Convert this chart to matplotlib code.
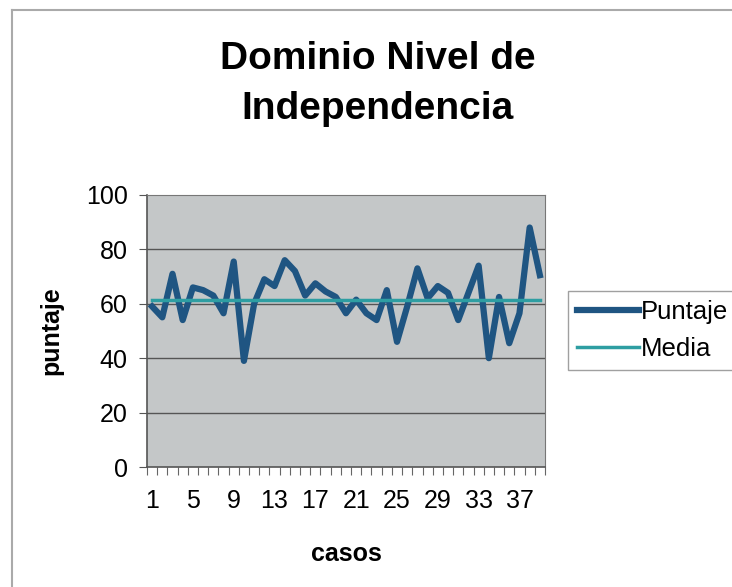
import matplotlib.pyplot as plt
import numpy as np
from matplotlib.lines import Line2D

plt.rcParams['font.family'] = ['Liberation Sans', 'DejaVu Sans']

# datos
casos = list(range(1, 40))
puntaje = [59, 55, 71, 54, 66, 65, 63, 56.5, 75.5, 39,
           60, 69, 66.5, 76, 72, 63, 67.5, 64.5, 62.5, 56.5,
           61.5, 56.5, 54, 65, 46, 59, 73, 62, 66.5, 64,
           54, 64, 74, 40, 62.5, 45.5, 56.5, 88, 70.5]
media = [61.5] * len(casos)
yticks = [0, 20, 40, 60, 80, 100]
xtick_labels = [1, 5, 9, 13, 17, 21, 25, 29, 33, 37]

fig = plt.figure(figsize=(7.32, 5.87), dpi=100)
ax = fig.add_axes([0.2008, 0.2044, 0.5437, 0.4636])
ax.set_facecolor('#c4c7c8')

ax.plot(casos, puntaje, color='#1f5582', linewidth=4.5, label='Puntaje', zorder=3)
ax.plot(casos, media, color='#2e9ea2', linewidth=2.5, label='Media', zorder=4)

ax.set_xlim(0.5, len(casos) + 0.5)
ax.set_ylim(0, 100)
ax.set_yticks(yticks)
for y in yticks[1:-1]:
    ax.axhline(y, color='#555555', linewidth=1.0, zorder=1)

# marcas del eje x entre categorias
ax.set_xticks(np.arange(0.5, len(casos) + 1, 1.0), minor=True)
ax.set_xticks(xtick_labels)
ax.tick_params(axis='x', which='major', length=0, pad=16, labelsize=18)
ax.tick_params(axis='x', which='minor', length=6, width=0.8, color='#666666', direction='out')
ax.tick_params(axis='y', length=6, width=0.8, color='#555555', labelsize=18, pad=8)

for side in ['top', 'right']:
    ax.spines[side].set_color('#777777')
for side in ['left', 'bottom']:
    ax.spines[side].set_color('#555555')
    ax.spines[side].set_linewidth(1.2)

ax.set_xlabel('casos', fontsize=18, fontweight='bold', labelpad=21)
ax.set_ylabel('puntaje', fontsize=18, fontweight='bold', labelpad=16)

fig.text(0.516, 0.857, 'Dominio Nivel de\nIndependencia', ha='center', va='center',
         fontsize=28, fontweight='bold', linespacing=1.5)

handles = [Line2D([], [], color='#1f5582', linewidth=4.5),
           Line2D([], [], color='#2e9ea2', linewidth=2.5)]
leg = fig.legend(handles, ['Puntaje', 'Media'], loc='upper left',
                 bbox_to_anchor=(0.776, 0.504), fontsize=18.5, frameon=True,
                 fancybox=False, edgecolor='#888888', handlelength=2.4,
                 handletextpad=0.1, borderpad=0.35, labelspacing=0.5, borderaxespad=0)
leg.get_frame().set_linewidth(1.0)

# marco exterior del grafico
fig.add_artist(Line2D([0.016, 1.0], [0.983, 0.983], color='#aaaaaa', linewidth=1.5))
fig.add_artist(Line2D([0.016, 0.016], [0.0, 0.983], color='#aaaaaa', linewidth=1.5))

plt.savefig('out.png', dpi=100)
